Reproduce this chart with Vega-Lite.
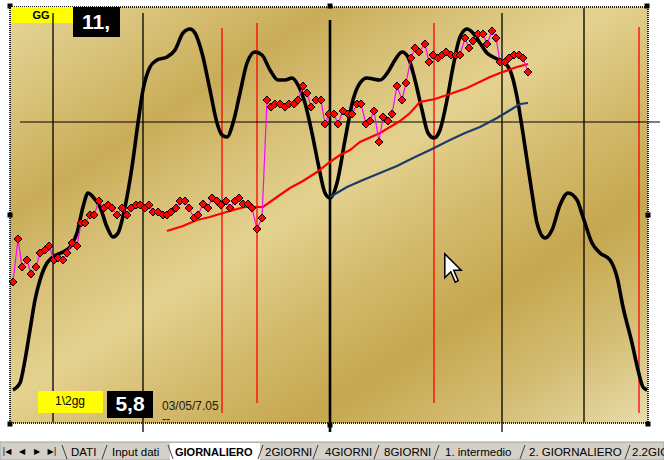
{
  "$schema": "https://vega.github.io/schema/vega-lite/v6.json",
  "width": 664,
  "height": 460,
  "padding": 0,
  "autosize": {"type": "none"},
  "background": "white",
  "view": {"stroke": null},
  "config": {"font": "Liberation Sans"},
  "datasets": {
    "area": [{"x": 10, "x2": 648, "y": 7, "y2": 423}],
    "vblack": [{"x": 53, "y": 13, "y2": 422}, {"x": 143, "y": 13, "y2": 432}, {"x": 502, "y": 13, "y2": 432}, {"x": 584, "y": 8, "y2": 422}],
    "vthick": [{"x": 330, "y": 20, "y2": 432}],
    "vred": [{"x": 222, "y": 28, "y2": 413}, {"x": 257, "y": 23, "y2": 403}, {"x": 434, "y": 23, "y2": 403}, {"x": 639, "y": 27, "y2": 413}],
    "hline": [{"x": 20, "x2": 660, "y": 122}],
    "curve": [
      {"x":13,"y":390},{"x":20,"y":383},{"x":25,"y":360},{"x":30,"y":330},{"x":35,"y":300},{"x":40,"y":280},{"x":47,"y":263},{"x":53,"y":257},{"x":63,"y":252},{"x":70,"y":247},{"x":77,"y":233},{"x":83,"y":207},{"x":88,"y":193},{"x":93,"y":197},{"x":100,"y":207},{"x":107,"y":227},{"x":113,"y":237},{"x":118,"y":233},{"x":125,"y":207},{"x":132,"y":167},{"x":138,"y":123},{"x":143,"y":90},{"x":150,"y":67},{"x":157,"y":60},{"x":167,"y":57},{"x":175,"y":50},{"x":183,"y":33},{"x":190,"y":29},{"x":195,"y":33},{"x":202,"y":53},{"x":210,"y":90},{"x":217,"y":123},{"x":222,"y":135},{"x":227,"y":137},{"x":233,"y":123},{"x":240,"y":93},{"x":247,"y":63},{"x":255,"y":52},{"x":262,"y":55},{"x":270,"y":70},{"x":278,"y":80},{"x":285,"y":80},{"x":292,"y":78},{"x":298,"y":85},{"x":305,"y":103},{"x":312,"y":133},{"x":318,"y":163},{"x":325,"y":193},{"x":330,"y":198},{"x":337,"y":183},{"x":345,"y":140},{"x":353,"y":100},{"x":360,"y":83},{"x":367,"y":78},{"x":373,"y":79},{"x":380,"y":80},{"x":388,"y":72},{"x":395,"y":60},{"x":402,"y":52},{"x":408,"y":57},{"x":415,"y":80},{"x":422,"y":110},{"x":428,"y":133},{"x":434,"y":138},{"x":440,"y":130},{"x":447,"y":100},{"x":453,"y":67},{"x":460,"y":37},{"x":467,"y":29},{"x":473,"y":33},{"x":480,"y":43},{"x":487,"y":53},{"x":495,"y":58},{"x":503,"y":62},{"x":510,"y":70},{"x":517,"y":97},{"x":522,"y":127},{"x":527,"y":160},{"x":532,"y":193},{"x":537,"y":223},{"x":545,"y":238},{"x":552,"y":230},{"x":560,"y":205},{"x":568,"y":193},{"x":577,"y":200},{"x":583,"y":217},{"x":592,"y":243},{"x":600,"y":253},{"x":610,"y":260},{"x":617,"y":277},{"x":623,"y":307},{"x":632,"y":343},{"x":638,"y":370},{"x":643,"y":387},{"x":647,"y":390}
    ],
    "price": [
      {"x":13,"y":282},{"x":18,"y":239},{"x":22,"y":267},{"x":27,"y":260},{"x":31,"y":274},{"x":36,"y":267},{"x":40,"y":253},{"x":45,"y":250},{"x":49,"y":246},{"x":54,"y":260},{"x":58,"y":258},{"x":63,"y":260},{"x":67,"y":253},{"x":72,"y":243},{"x":77,"y":246},{"x":81,"y":223},{"x":85,"y":223},{"x":90,"y":215},{"x":94,"y":215},{"x":99,"y":201},{"x":104,"y":208},{"x":108,"y":205},{"x":112,"y":208},{"x":117,"y":215},{"x":122,"y":208},{"x":127,"y":215},{"x":131,"y":208},{"x":136,"y":205},{"x":140,"y":205},{"x":145,"y":208},{"x":149,"y":205},{"x":153,"y":212},{"x":158,"y":212},{"x":163,"y":215},{"x":167,"y":215},{"x":171,"y":212},{"x":176,"y":208},{"x":180,"y":201},{"x":185,"y":201},{"x":189,"y":208},{"x":194,"y":218},{"x":198,"y":215},{"x":203,"y":204},{"x":208,"y":208},{"x":212,"y":198},{"x":217,"y":201},{"x":221,"y":205},{"x":226,"y":201},{"x":230,"y":208},{"x":235,"y":201},{"x":239,"y":198},{"x":243,"y":204},{"x":248,"y":204},{"x":252,"y":208},{"x":257,"y":229},{"x":262,"y":218},{"x":267,"y":100},{"x":271,"y":107},{"x":275,"y":104},{"x":280,"y":104},{"x":285,"y":107},{"x":289,"y":104},{"x":294,"y":104},{"x":298,"y":100},{"x":303,"y":86},{"x":307,"y":93},{"x":311,"y":107},{"x":316,"y":100},{"x":321,"y":100},{"x":325,"y":124},{"x":329,"y":114},{"x":334,"y":114},{"x":338,"y":124},{"x":343,"y":111},{"x":348,"y":114},{"x":352,"y":114},{"x":357,"y":104},{"x":361,"y":104},{"x":366,"y":124},{"x":370,"y":121},{"x":374,"y":111},{"x":379,"y":142},{"x":383,"y":117},{"x":388,"y":121},{"x":392,"y":114},{"x":397,"y":86},{"x":402,"y":100},{"x":406,"y":83},{"x":411,"y":58},{"x":415,"y":48},{"x":419,"y":52},{"x":425,"y":44},{"x":429,"y":62},{"x":433,"y":55},{"x":438,"y":58},{"x":442,"y":55},{"x":446,"y":52},{"x":451,"y":55},{"x":456,"y":55},{"x":460,"y":55},{"x":465,"y":38},{"x":469,"y":48},{"x":473,"y":41},{"x":478,"y":34},{"x":483,"y":34},{"x":487,"y":44},{"x":492,"y":31},{"x":496,"y":38},{"x":500,"y":62},{"x":505,"y":62},{"x":509,"y":58},{"x":514,"y":55},{"x":519,"y":55},{"x":523,"y":58},{"x":528,"y":72}
    ],
    "ma": [
      {"x":167,"y":231},{"x":183,"y":226},{"x":197,"y":220},{"x":210,"y":217},{"x":223,"y":213},{"x":237,"y":209},{"x":245,"y":207},{"x":263,"y":207},{"x":277,"y":197},{"x":290,"y":188},{"x":303,"y":181},{"x":317,"y":172},{"x":330,"y":162},{"x":340,"y":155},{"x":350,"y":150},{"x":360,"y":142},{"x":380,"y":133},{"x":400,"y":121},{"x":410,"y":113},{"x":420,"y":102},{"x":435,"y":99},{"x":450,"y":94},{"x":467,"y":88},{"x":490,"y":77},{"x":500,"y":73},{"x":517,"y":67},{"x":528,"y":64}
    ],
    "ma2": [
      {"x":330,"y":197},{"x":347,"y":187},{"x":363,"y":180},{"x":380,"y":173},{"x":397,"y":166},{"x":413,"y":158},{"x":430,"y":150},{"x":450,"y":140},{"x":465,"y":133},{"x":480,"y":127},{"x":497,"y":118},{"x":507,"y":112},{"x":520,"y":104},{"x":528,"y":103}
    ],
    "handles": [{"x":10,"y":6},{"x":330,"y":6},{"x":647,"y":6},{"x":10,"y":215},{"x":648,"y":215},{"x":10,"y":424},{"x":330,"y":425},{"x":648,"y":424}],
    "yellow": [{"x":11,"x2":73,"y":7,"y2":23},{"x":38,"x2":103,"y":391,"y2":413}],
    "blackbox": [{"x":73,"x2":120,"y":7,"y2":37},{"x":107,"x2":153,"y":391,"y2":418}],
    "bigwhite": [{"x":96,"y":23,"t":"11,"},{"x":130,"y":405,"t":"5,8"}],
    "gg": [{"x":41,"y":16,"t":"GG"}],
    "half": [{"x":70,"y":401,"t":"1\\2gg"}],
    "date": [{"x":162,"y":406,"t":"03/05/7.05"},{"x":162,"y":419,"t":"--"}],
    "tabbar": [{"x":0,"x2":664,"y":442,"y2":460}],
    "activetab": [{"x":170,"x2":260,"y":443,"y2":460}],
    "sepdown": [{"x":62,"x2":67,"y":445,"y2":459},{"x":168,"x2":173,"y":445,"y2":459}],
    "sepup": [{"x":102,"x2":107,"y":459,"y2":445},{"x":258,"x2":263,"y":459,"y2":445},{"x":313,"x2":318,"y":459,"y2":445},{"x":374,"x2":379,"y":459,"y2":445},{"x":434,"x2":439,"y":459,"y2":445},{"x":520,"x2":525,"y":459,"y2":445},{"x":625,"x2":630,"y":459,"y2":445}],
    "tabs": [{"x":71,"y":452,"t":"DATI"},{"x":112,"y":452,"t":"Input dati"},{"x":265,"y":452,"t":"2GIORNI"},{"x":325,"y":452,"t":"4GIORNI"},{"x":384,"y":452,"t":"8GIORNI"},{"x":445,"y":452,"t":"1. intermedio"},{"x":529,"y":452,"t":"2.  GIORNALIERO"},{"x":632,"y":452,"t":"2.2GIO"}],
    "tabactive": [{"x":175,"y":452,"t":"GIORNALIERO"}],
    "nav": [{"x":7,"y":452,"t":"|◀"},{"x":22,"y":452,"t":"◀"},{"x":37,"y":452,"t":"▶"},{"x":52,"y":452,"t":"▶|"}],
    "cursor": [{"x":453,"y":268}]
  },
  "encoding": {
    "x": {"field": "x", "type": "quantitative", "scale": {"domain": [0, 664], "nice": false, "zero": false}, "axis": null},
    "y": {"field": "y", "type": "quantitative", "scale": {"domain": [0, 460], "nice": false, "zero": false, "reverse": true}, "axis": null}
  },
  "layer": [
    {"data": {"name": "area"}, "mark": {"type": "rect", "fill": {"gradient": "linear", "x1": 0, "y1": 0, "x2": 1, "y2": 1, "stops": [
      {"offset": 0, "color": "#e6d69a"}, {"offset": 0.12, "color": "#d9c37a"}, {"offset": 0.25, "color": "#c9ac58"}, {"offset": 0.36, "color": "#d8c178"}, {"offset": 0.47, "color": "#e4d290"}, {"offset": 0.6, "color": "#d3ba6c"}, {"offset": 0.73, "color": "#c5a74f"}, {"offset": 0.86, "color": "#d3bc72"}, {"offset": 1, "color": "#e7dcaa"}]}},
      "encoding": {"x2": {"field": "x2"}, "y2": {"field": "y2"}}},
    {"data": {"name": "vblack"}, "mark": {"type": "rule", "color": "black", "strokeWidth": 1.3}, "encoding": {"y2": {"field": "y2"}}},
    {"data": {"name": "vred"}, "mark": {"type": "rule", "color": "#ff0000", "strokeWidth": 1.3}, "encoding": {"y2": {"field": "y2"}}},
    {"data": {"name": "vthick"}, "mark": {"type": "rule", "color": "black", "strokeWidth": 2.6}, "encoding": {"y2": {"field": "y2"}}},
    {"data": {"name": "hline"}, "mark": {"type": "rule", "color": "black", "strokeWidth": 1.2}, "encoding": {"x2": {"field": "x2"}}},
    {"data": {"name": "curve"}, "mark": {"type": "line", "color": "black", "strokeWidth": 3.6, "interpolate": "monotone"}, "encoding": {}},
    {"data": {"name": "ma"}, "mark": {"type": "line", "color": "#ff0000", "strokeWidth": 2.2}, "encoding": {}},
    {"data": {"name": "ma2"}, "mark": {"type": "line", "color": "#1c3a6e", "strokeWidth": 2.2}, "encoding": {}},
    {"data": {"name": "price"}, "mark": {"type": "line", "color": "#ff00ff", "strokeWidth": 1.2}, "encoding": {}},
    {"data": {"name": "price"}, "mark": {"type": "point", "shape": "diamond", "filled": true, "fill": "#ff0000", "stroke": "black", "strokeWidth": 1, "size": 64, "opacity": 1}, "encoding": {}},
    {"data": {"name": "area"}, "mark": {"type": "rect", "fill": null, "stroke": "#222222", "strokeWidth": 2, "strokeDash": [1, 1]}, "encoding": {"x2": {"field": "x2"}, "y2": {"field": "y2"}}},
    {"data": {"name": "handles"}, "mark": {"type": "point", "shape": "square", "filled": true, "color": "black", "size": 25, "opacity": 1}, "encoding": {}},
    {"data": {"name": "yellow"}, "mark": {"type": "rect", "color": "#ffff00"}, "encoding": {"x2": {"field": "x2"}, "y2": {"field": "y2"}}},
    {"data": {"name": "blackbox"}, "mark": {"type": "rect", "color": "black"}, "encoding": {"x2": {"field": "x2"}, "y2": {"field": "y2"}}},
    {"data": {"name": "vblack"}, "transform": [{"filter": "datum.x == 53"}], "mark": {"type": "rule", "color": "black", "strokeWidth": 1.3}, "encoding": {"y2": {"value": 23}}},
    {"data": {"name": "bigwhite"}, "mark": {"type": "text", "color": "white", "fontSize": 21, "fontWeight": "bold", "font": "Liberation Sans", "align": "center", "baseline": "middle"}, "encoding": {"text": {"field": "t"}}},
    {"data": {"name": "gg"}, "mark": {"type": "text", "color": "black", "fontSize": 11, "fontWeight": "bold", "font": "Liberation Sans", "align": "center", "baseline": "middle"}, "encoding": {"text": {"field": "t"}}},
    {"data": {"name": "half"}, "mark": {"type": "text", "color": "black", "fontSize": 12, "font": "Liberation Sans", "align": "center", "baseline": "middle"}, "encoding": {"text": {"field": "t"}}},
    {"data": {"name": "date"}, "mark": {"type": "text", "color": "#1a1a1a", "fontSize": 12, "font": "Liberation Sans", "align": "left", "baseline": "middle"}, "encoding": {"text": {"field": "t"}}},
    {"data": {"name": "tabbar"}, "mark": {"type": "rect", "color": "#d4d0c8", "stroke": "#a0a0a0", "strokeWidth": 1}, "encoding": {"x2": {"field": "x2"}, "y2": {"field": "y2"}}},
    {"data": {"name": "activetab"}, "mark": {"type": "rect", "color": "#ffffff"}, "encoding": {"x2": {"field": "x2"}, "y2": {"field": "y2"}}},
    {"data": {"name": "sepdown"}, "mark": {"type": "rule", "color": "#404040", "strokeWidth": 1}, "encoding": {"x2": {"field": "x2"}, "y2": {"field": "y2"}}},
    {"data": {"name": "sepup"}, "mark": {"type": "rule", "color": "#404040", "strokeWidth": 1}, "encoding": {"x2": {"field": "x2"}, "y2": {"field": "y2"}}},
    {"data": {"name": "tabs"}, "mark": {"type": "text", "color": "black", "fontSize": 11.5, "font": "Liberation Sans", "fontWeight": "normal", "align": "left", "baseline": "middle", "dy": 1}, "encoding": {"text": {"field": "t"}}},
    {"data": {"name": "tabactive"}, "mark": {"type": "text", "color": "black", "fontSize": 11, "font": "Liberation Sans", "fontWeight": "bold", "align": "left", "baseline": "middle", "dy": 1}, "encoding": {"text": {"field": "t"}}},
    {"data": {"name": "nav"}, "mark": {"type": "text", "color": "black", "fontSize": 8, "font": "DejaVu Sans", "align": "center", "baseline": "middle"}, "encoding": {"text": {"field": "t"}}},
    {"data": {"name": "cursor"}, "mark": {"type": "point", "shape": "M-0.579,-1L-0.579,0.684L-0.158,0.263L0.158,1L0.368,0.895L0.053,0.158L0.579,0.158Z", "filled": true, "fill": "white", "stroke": "black", "strokeWidth": 1.5, "size": 800, "opacity": 1}, "encoding": {}}
  ]
}
